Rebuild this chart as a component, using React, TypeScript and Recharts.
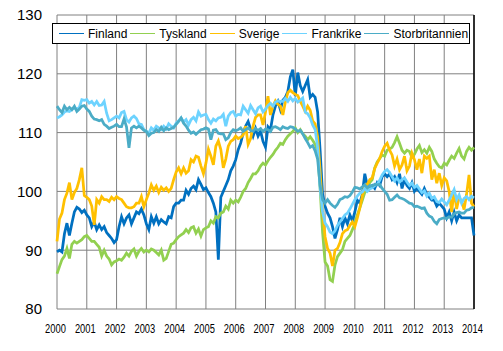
import React from "react";
import {
  LineChart,
  Line,
  XAxis,
  YAxis,
  CartesianGrid,
  ReferenceLine,
} from "recharts";

// månadsvärden jan 2000 – jan 2014 (169 st per serie)
const years = [
  2000, 2001, 2002, 2003, 2004, 2005, 2006, 2007, 2008, 2009, 2010, 2011, 2012,
  2013, 2014,
];
const yTicks = [80, 90, 100, 110, 120, 130];

const finland = [
  89.7, 90.0, 89.7, 92.8, 94.6, 92.5, 94.6, 96.5, 97.3, 97.0, 96.4, 96.8,
  96.0, 95.5, 94.0, 94.8, 93.5, 94.3, 93.5, 94.0, 93.0, 92.5, 92.0, 91.3,
  91.8, 94.0, 95.7, 94.5, 95.5, 96.0, 94.5, 95.5, 96.5, 96.2, 97.0, 96.0,
  94.5, 93.5, 95.7, 94.6, 95.7, 94.5, 95.2, 94.8, 94.5, 95.7, 95.5, 97.4,
  98.0, 98.0, 98.5, 98.5, 100.2, 99.5, 100.5, 100.9, 100.3, 102.0, 101.2, 100.3,
  100.6, 99.8, 99.1, 98.0, 96.5, 88.4, 99.0, 100.0, 101.0, 102.0, 103.5, 104.3,
  105.4, 107.1, 108.2, 109.9, 111.1, 111.9, 110.6, 109.4, 110.7, 109.4, 110.3, 108.5,
  107.5, 111.0, 110.5, 113.0, 114.5, 115.3, 113.9, 115.5, 116.0, 117.0, 119.5, 120.7,
  116.2, 120.2, 118.0, 117.0, 118.0, 119.0, 116.0, 116.5, 116.0, 113.5, 107.0, 99.5,
  97.5, 96.3, 95.5, 94.0, 92.0, 93.5, 95.5, 94.0, 95.5, 94.5, 96.0, 95.0,
  96.5, 98.5, 98.0, 99.5, 103.0, 101.0, 100.5, 101.0, 100.5, 101.5, 101.0, 102.5,
  103.0, 102.5, 103.0, 102.0, 102.5, 101.5, 103.0, 100.5, 102.0, 101.0, 100.5, 101.5,
  100.0, 100.5, 100.0, 99.5, 100.5, 99.5, 99.0, 98.5, 98.5, 97.5, 98.0, 97.5,
  97.0, 95.5, 96.5, 95.0, 96.5, 95.0, 96.0, 95.5, 95.5, 95.5, 95.5, 95.5,
  92.5,
];

const tyskland = [
  86.0, 87.2, 88.4, 89.0, 90.3, 88.6, 91.0, 91.5, 91.2, 91.5, 91.8, 92.3,
  92.5, 92.0, 91.5, 91.5, 91.0, 90.5, 89.0, 90.0, 89.0, 88.5, 87.5, 88.0,
  88.2, 88.5, 88.3, 88.8, 89.5, 89.0, 89.8, 90.2, 89.0, 89.8, 90.3, 89.7,
  90.0, 89.7, 90.2, 90.0, 89.6, 89.2, 90.0, 88.3, 88.6, 89.8, 91.0, 91.2,
  91.8, 92.3, 92.6, 92.9, 93.5, 93.0, 93.8, 94.0, 92.9, 93.6, 92.4, 93.5,
  93.8, 94.0, 95.0, 94.6, 95.7, 95.5, 96.3, 96.5, 97.5, 97.0, 98.5, 98.0,
  98.5, 98.2, 99.0, 100.0, 100.5, 101.5, 102.2, 103.0, 103.0, 103.5, 104.3, 104.8,
  104.5, 105.2, 105.8, 106.3, 107.0, 107.5, 108.2, 108.0, 108.8, 109.4, 109.8, 110.2,
  110.8, 110.0, 110.5, 109.8, 109.4, 108.8, 109.3, 108.7, 108.0, 106.8, 100.5, 93.0,
  88.0, 87.3, 85.0, 84.7, 87.5, 88.9, 89.5, 90.1, 91.5, 92.0, 92.5, 93.5,
  94.5, 96.0, 97.2, 98.5, 99.8, 100.2, 101.5, 102.0, 104.0, 105.0, 105.6, 106.2,
  106.0, 107.0, 107.2, 107.5, 108.3, 109.3, 108.2, 107.0, 106.5, 107.0, 106.8, 105.8,
  106.3, 107.2, 107.8, 106.6, 107.1, 106.5, 107.5, 106.8, 105.5, 104.8, 104.2, 104.0,
  104.8, 104.5, 105.3, 106.0, 105.6, 106.5, 107.3, 106.0, 105.5, 106.8, 107.5, 107.0,
  107.5,
];

const sverige = [
  91.5, 95.3, 96.3, 98.6, 99.7, 101.5, 98.6, 99.8, 100.5, 102.0, 104.0, 99.3,
  99.0, 98.6, 97.5, 94.3, 98.6, 98.0, 99.1, 98.6, 98.6, 98.3, 99.0, 98.6,
  99.1, 98.8, 98.6, 98.0, 97.4, 97.2, 97.2, 97.4, 98.0, 98.0, 99.1, 97.4,
  98.6, 99.7, 101.1, 100.2, 100.9, 99.8, 100.7, 100.2, 100.6, 100.0, 100.5, 102.0,
  103.3, 104.0, 103.0, 104.0, 103.1, 103.5, 105.4, 105.0, 106.0, 105.8, 104.3, 103.0,
  104.8, 107.2, 106.0, 104.5, 107.7, 108.6, 107.1, 104.0, 105.5, 107.7, 108.5, 108.8,
  109.4, 109.0, 109.2, 109.6, 111.1, 108.0, 109.0, 111.1, 112.6, 113.0, 113.0, 111.3,
  113.5, 116.2, 113.0, 114.5, 115.4, 114.8, 114.5, 113.0, 115.2, 116.8, 117.2, 116.8,
  116.5, 116.3, 115.3, 114.5, 113.6, 114.5, 113.8, 112.0, 111.5, 109.3, 103.5, 96.5,
  92.3, 90.3, 89.5, 87.3, 90.0, 90.3, 91.3, 92.8, 93.3, 93.5, 94.2, 94.8,
  94.0, 95.5, 97.2, 99.2, 101.0, 101.2, 102.0, 102.3, 103.9, 104.8, 105.6, 106.8,
  107.7, 108.2, 107.0, 106.2, 104.3, 105.5, 103.7, 104.5, 106.0, 103.5, 104.3, 106.5,
  105.4, 103.7, 105.5, 103.1, 106.0, 105.6, 106.0, 102.0, 103.7, 101.4, 103.1, 101.0,
  102.3, 101.8, 100.0, 96.5, 100.2, 97.0, 99.0, 98.3, 96.9, 99.5, 102.8, 98.0,
  97.4,
];

const frankrike = [
  112.5, 112.7, 113.0, 113.5, 113.7, 113.6, 113.9, 114.2, 114.0, 114.3, 115.6, 115.5,
  115.6, 115.0, 115.3, 114.7, 115.3, 114.6, 114.7, 115.3, 113.3, 112.0, 112.2, 112.5,
  112.8, 112.5, 113.4, 113.6, 112.2, 111.8, 112.5, 112.8, 112.4, 111.5, 111.4, 110.5,
  110.2, 109.9, 110.8, 110.4, 111.1, 110.8, 110.5, 111.1, 110.6, 111.5, 111.1, 110.8,
  111.6, 112.0, 112.5, 111.8, 112.2, 111.3, 112.2, 112.6, 112.0, 113.5, 112.8, 113.0,
  113.1, 112.2, 111.6, 112.3, 112.0, 112.5, 112.6, 113.1, 111.1, 112.8, 113.4, 113.6,
  112.8, 113.1, 113.0, 114.5, 113.9, 113.3, 114.6, 113.9, 113.2, 114.2, 114.5, 113.5,
  114.0, 114.6, 115.0, 114.5, 115.2, 115.4, 115.3, 115.3, 115.8, 115.3, 116.0, 115.4,
  115.8, 115.2, 115.5, 115.9, 113.5, 113.2, 112.5, 111.3, 110.5, 107.5, 100.5, 96.5,
  94.6, 94.0, 93.1, 92.8, 93.3, 94.2, 94.8, 95.4, 96.0, 96.3, 97.0, 97.8,
  98.6, 99.2, 99.7, 99.9, 100.5, 100.0, 100.4, 100.6, 101.0, 101.2, 101.9, 102.8,
  103.4, 103.7, 103.2, 102.5, 101.8, 102.3, 101.6, 102.0, 102.3, 101.6, 101.0, 101.4,
  100.7, 101.0, 100.4, 99.8, 100.1, 99.2, 99.7, 98.8, 99.1, 98.3, 98.1, 98.7,
  98.2, 97.7, 98.5, 99.4, 100.3, 98.6, 99.4, 98.0, 98.8, 99.1, 98.6, 99.2,
  98.9,
];

const storbritannien = [
  114.5, 113.9, 113.4, 114.5, 113.9, 114.3, 113.9, 114.5, 113.6, 114.0, 114.5, 114.6,
  114.0, 113.6, 112.8, 112.3, 112.2, 112.0, 112.2, 111.4, 111.1, 110.7, 110.9, 111.1,
  111.4, 111.0, 111.0, 112.3, 111.0, 107.4, 110.8, 111.1, 110.8, 111.1, 110.8, 110.4,
  110.2, 109.5, 109.9, 110.0, 110.5, 110.2, 110.9, 110.3, 110.8, 110.5, 110.7, 110.9,
  111.4, 111.9, 112.5, 111.6, 111.1, 110.4, 109.9, 110.1, 109.7, 110.1, 110.5, 110.6,
  110.8, 110.6, 108.8, 110.4, 110.5, 109.9, 109.8, 109.8, 108.8, 109.1, 110.0, 110.5,
  110.3, 110.5, 110.8, 110.2, 110.5, 110.8, 110.4, 110.2, 110.7, 110.4, 110.7, 110.2,
  110.6, 110.5, 110.2, 110.9, 111.0, 110.8, 110.5, 111.0, 110.8, 110.7, 111.0, 110.9,
  110.6, 110.2, 110.4, 109.8, 109.0, 108.3, 107.5, 107.8, 106.9, 105.5, 101.0, 98.6,
  98.0, 98.6, 98.0, 97.6, 97.3, 97.8, 98.6, 98.8, 99.1, 99.0, 99.3, 99.9,
  100.7, 100.6, 100.4, 100.8, 101.1, 100.6, 101.0, 100.9, 101.2, 101.1, 101.2, 100.5,
  100.0, 99.5, 98.5, 98.6, 99.0, 99.4, 98.9, 98.8, 98.6, 98.3, 98.0, 97.9,
  97.4, 97.5, 97.3, 97.1, 97.2, 96.3, 95.8, 95.6, 94.9, 94.5, 95.2, 95.4,
  95.5, 95.4, 95.7, 95.6, 96.2, 96.4, 96.5, 96.3, 96.3, 96.8, 96.9, 97.2,
  97.3,
];

const series = [
  { key: "Finland", color: "#0070C0", values: finland },
  { key: "Tyskland", color: "#92D050", values: tyskland },
  { key: "Sverige", color: "#FFC000", values: sverige },
  { key: "Frankrike", color: "#6DD3FF", values: frankrike },
  { key: "Storbritannien", color: "#4BACC6", values: storbritannien },
];

const data = finland.map((_, i) => {
  const row: Record<string, number> = { month: i };
  series.forEach((s) => {
    row[s.key] = s.values[i];
  });
  return row;
});

const yearTicks = years.map((_, i) => i * 12);
const lastMonth = yearTicks[yearTicks.length - 1];

const font = "'Liberation Sans', Arial, sans-serif";

// smala årtal som i originalet
function YearTick(props: any) {
  const { x, y, payload } = props;
  return (
    <text
      transform={`translate(${x - 1.5},${y}) scale(0.72,1)`}
      textAnchor="middle"
      dy="0.71em"
      fontSize={13}
      fontFamily={font}
      fill="#000"
    >
      {years[0] + payload.value / 12}
    </text>
  );
}

export default function App() {
  return (
    <div
      style={{ position: "relative", width: 503, height: 351, fontFamily: font }}
    >
      <style>{"body{margin:0}"}</style>
      <LineChart
        width={503}
        height={351}
        data={data}
        margin={{ top: 15, right: 29, bottom: 12, left: 0 }}
      >
        <CartesianGrid stroke="#808080" strokeWidth={1} />
        <XAxis
          type="number"
          dataKey="month"
          domain={[0, lastMonth]}
          ticks={yearTicks}
          interval={0}
          axisLine={false}
          tickLine={false}
          tickMargin={9}
          height={30}
          tick={<YearTick />}
        />
        <YAxis
          type="number"
          domain={[80, 130]}
          ticks={yTicks}
          interval={0}
          width={57}
          axisLine={false}
          tickLine={false}
          tickMargin={9}
          tick={{ fontSize: 15, fill: "#000", fontFamily: font }}
        />
        <ReferenceLine x={lastMonth} stroke="#000" strokeWidth={1.5} />
        {series.map((s) => (
          <Line
            key={s.key}
            type="linear"
            dataKey={s.key}
            stroke={s.color}
            strokeWidth={2.75}
            dot={false}
            activeDot={false}
            isAnimationActive={false}
          />
        ))}
      </LineChart>
      <div
        style={{
          position: "absolute",
          left: 52,
          top: 23,
          width: 418,
          height: 21,
          boxSizing: "border-box",
          border: "1px solid #000",
          background: "#fff",
          display: "flex",
          alignItems: "center",
          paddingLeft: 6,
          gap: 3,
          fontSize: 12,
          whiteSpace: "nowrap",
        }}
      >
        {series.map((s) => (
          <div key={s.key} style={{ display: "flex", alignItems: "center" }}>
            <div
              style={{
                width: 25,
                height: 1.5,
                background: s.color,
                marginRight: 4,
              }}
            />
            <span>{s.key}</span>
          </div>
        ))}
      </div>
    </div>
  );
}
